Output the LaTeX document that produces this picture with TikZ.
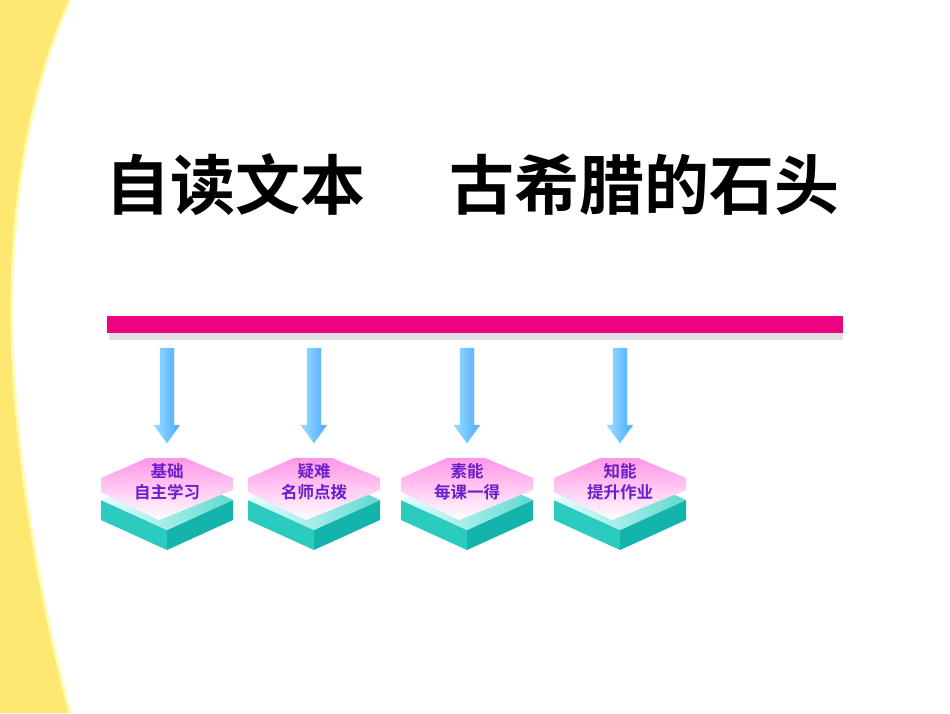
\documentclass[tikz,border=0pt]{standalone}
\usepackage{fontspec}
\newfontfamily\cjk{Noto Sans CJK SC}[BoldFont={Noto Sans CJK SC Bold}]
\definecolor{lblc}{HTML}{6A1FC8}
\definecolor{tealL}{HTML}{2CCBC0}
\definecolor{tealR}{HTML}{14B3AC}
\definecolor{tealT}{HTML}{5FD9D0}
\begin{document}
\begin{tikzpicture}[x=1pt,y=-1pt,
  lbl/.style={font=\cjk\bfseries\fontsize{16.5}{21}\selectfont, text=lblc, align=center},
  arr/.style={left color=blue!30!cyan!40, right color=blue!50!cyan!70, draw=blue!40!cyan!50, line width=0.4pt}]
\useasboundingbox (0,0) rectangle (950,713);
\fill[white] (0,0) rectangle (950,713);
\fill[yellow!75!orange!55] (0,0) -- (70,0) .. controls (30,90) and (10,200) .. (12,330) .. controls (14,450) and (40,600) .. (70,713) -- (0,713) -- cycle;
\draw[white!70!yellow, line width=3pt] (70,0) .. controls (30,90) and (10,200) .. (12,330) .. controls (14,450) and (40,600) .. (70,713);
\node[font=\cjk\bfseries\fontsize{65}{66}\selectfont, inner sep=0pt, anchor=west] (title) at (105,185) {自读文本\hspace{1.3em}古希腊的石头};
\fill[gray!25] (109,322) rectangle (843,340);
\fill[magenta!90!red] (107,316) rectangle (843,333);
\foreach \x/\n/\a/\b in {167/n1/基础/自主学习, 314/n2/疑难/名师点拨, 467/n3/素能/每课一得, 620/n4/知能/提升作业} {
  \path[arr] (\x-7,348) -- (\x+7,348) -- (\x+7,425) -- (\x+13,425) -- (\x,443) -- (\x-13,425) -- (\x-7,425) -- cycle;
  \fill[tealL] (\x-66,500) -- (\x,530) -- (\x,550) -- (\x-66,520) -- cycle;
  \fill[tealR] (\x+66,500) -- (\x,530) -- (\x,550) -- (\x+66,520) -- cycle;
  \shade[left color=cyan!10, right color=tealT] (\x-66,500) -- (\x,470) -- (\x+66,500) -- (\x,530) -- cycle;
  \shade[top color=magenta!45!pink!70, bottom color=white, draw=none] (\x-20,458) -- (\x+18,458) -- (\x+66,478) -- (\x+66,490) -- (\x+12,512) -- (\x-8,520) -- (\x-66,492) -- (\x-66,478) -- cycle;
  \node[lbl] (\n) at (\x,482) {\a\\\b};
}
\end{tikzpicture}
\end{document}
